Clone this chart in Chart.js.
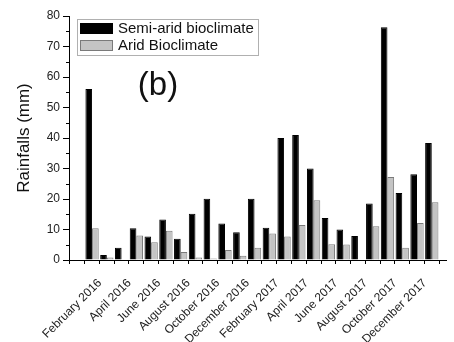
<!DOCTYPE html>
<html>
<head>
<meta charset="utf-8">
<script src="https://cdn.jsdelivr.net/npm/chart.js@4"></script>
<style>
  html, body { margin: 0; padding: 0; background: #fff; }
  #wrap { width: 454px; height: 342px; }
</style>
</head>
<body>
<div id="wrap"><canvas id="rainChart" width="454" height="342"></canvas></div>
<script>
// months, one group of bars each (labels shown every other month)
const months = [
  'January 2016', 'February 2016', 'March 2016', 'April 2016', 'May 2016', 'June 2016',
  'July 2016', 'August 2016', 'September 2016', 'October 2016', 'November 2016', 'December 2016',
  'January 2017', 'February 2017', 'March 2017', 'April 2017', 'May 2017', 'June 2017',
  'July 2017', 'August 2017', 'September 2017', 'October 2017', 'November 2017', 'December 2017'
];
const semiArid = [56.1, 1.6, 4.0, 10.4, 7.7, 13.3, 7.0, 15.2, 20.1, 12.0, 9.1, 20.1,
                  10.6, 40.0, 41.0, 30.0, 13.8, 10.0, 7.9, 18.5, 76.3, 22.0, 28.1, 38.4];
const arid = [10.4, 0.8, 0, 8.0, 5.8, 9.6, 2.6, 0.8, 0.5, 3.3, 1.4, 4.0,
              8.7, 7.7, 11.5, 19.6, 5.2, 5.1, 0, 11.1, 27.2, 4.0, 12.1, 18.9];
const yMin = 0, yMax = 80, yStep = 10;

const font = 'Liberation Sans, Arial, sans-serif';

// legend box inside the plot, "(b)" tag and the short minor ticks on y
const extras = {
  id: 'extras',
  afterDatasetsDraw(chart) {
    const ctx = chart.ctx;
    const ys = chart.scales.y;
    ctx.save();
    ctx.strokeStyle = '#000';
    ctx.lineWidth = 1;
    for (let v = yMin + yStep / 2; v < yMax; v += yStep) {
      const py = Math.round(ys.getPixelForValue(v)) + 0.5;
      ctx.beginPath();
      ctx.moveTo(ys.right - 3, py);
      ctx.lineTo(ys.right, py);
      ctx.stroke();
    }

    ctx.strokeStyle = '#b0b0b0';
    ctx.strokeRect(77.5, 19.5, 181, 36);
    chart.data.datasets.forEach((ds, i) => {
      const y = 23 + i * 17;
      ctx.fillStyle = ds.backgroundColor;
      ctx.fillRect(80, y, 33, 11);
      ctx.strokeStyle = ds.borderColor;
      ctx.strokeRect(80.5, y + 0.5, 32, 10);
      ctx.fillStyle = '#111';
      ctx.font = '15px ' + font;
      ctx.textBaseline = 'middle';
      ctx.fillText(ds.label, 118, y + 6);
    });
    ctx.font = '33px ' + font;
    ctx.textAlign = 'center';
    ctx.textBaseline = 'middle';
    ctx.fillStyle = '#111';
    ctx.fillText('(b)', 158, 86);
    ctx.restore();
  }
};

const ctx = document.querySelector('#rainChart').getContext('2d');
const rainChart = new Chart(ctx, {
  type: 'bar',
  data: {
    datasets: [{
      label: 'Semi-arid bioclimate',
      data: semiArid.map((v, i) => ({ x: i, y: v })),
      backgroundColor: '#000000',
      borderColor: '#000000',
      borderWidth: 1
    }, {
      label: 'Arid Bioclimate',
      data: arid.map((v, i) => ({ x: i, y: v })),
      backgroundColor: '#c4c4c4',
      borderColor: '#7a7a7a',
      borderWidth: 1
    }]
  },
  options: {
    responsive: false,
    animation: false,
    categoryPercentage: 0.9,
    barPercentage: 1,
    layout: { padding: { top: 16, right: 1, left: 0, bottom: 0 } },
    plugins: {
      legend: { display: false },
      tooltip: { enabled: false }
    },
    scales: {
      x: {
        type: 'linear',
        min: -1.05,
        max: 23.5,
        afterFit: (scale) => { scale.height = 82; },
        border: { display: true, color: '#000', width: 1 },
        grid: { drawOnChartArea: false, drawTicks: true, tickLength: 4, color: '#000' },
        ticks: {
          stepSize: 1,
          includeBounds: false,
          autoSkip: false,
          minRotation: 45,
          maxRotation: 45,
          padding: 12,
          labelOffset: -7,
          color: '#222',
          font: { family: font, size: 12 },
          callback: (value) => (Number.isInteger(value) && value % 2 === 1) ? months[value] : ''
        }
      },
      y: {
        min: yMin,
        max: yMax,
        afterFit: (scale) => { scale.width = 69; },
        border: { display: true, color: '#000', width: 1 },
        grid: { drawOnChartArea: false, drawTicks: true, tickLength: 6, color: '#000' },
        ticks: {
          stepSize: yStep,
          padding: 3,
          color: '#222',
          font: { family: font, size: 12 }
        },
        title: {
          display: true,
          text: 'Rainfalls (mm)',
          color: '#111',
          font: { family: font, size: 17 },
          padding: { top: 14, bottom: 0 }
        }
      }
    }
  },
  plugins: [extras]
});
</script>
</body>
</html>
